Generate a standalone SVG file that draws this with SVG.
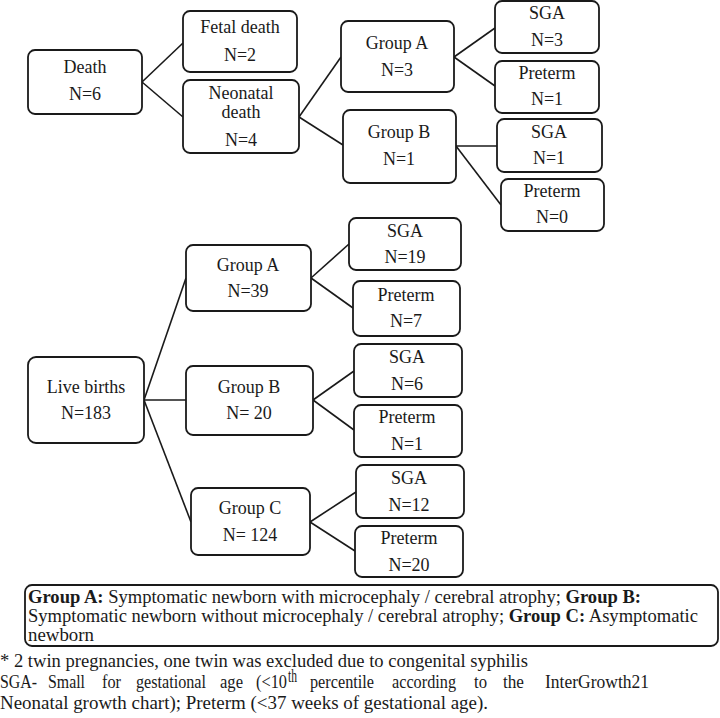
<svg xmlns="http://www.w3.org/2000/svg" width="720" height="718" viewBox="0 0 720 718" font-family="Liberation Serif, Times New Roman, serif">
<style>
.b{fill:#fff;stroke:#1a1a1a;stroke-width:1.8}
.t{font-size:18px;fill:#1a1a1a;text-anchor:middle}
.c line{stroke:#1a1a1a;stroke-width:1.6}
.f{font-size:18px;fill:#1a1a1a}
.bd{font-weight:bold}
</style>
<rect width="720" height="718" fill="#fff"/>
<g class="c" id="connectors">
<line x1="142" y1="82" x2="183" y2="43"/>
<line x1="142" y1="82" x2="183" y2="117"/>
<line x1="299" y1="117" x2="341" y2="57"/>
<line x1="299" y1="117" x2="343" y2="145"/>
<line x1="454" y1="57" x2="495" y2="28"/>
<line x1="454" y1="57" x2="495" y2="86"/>
<line x1="456" y1="146" x2="497" y2="146"/>
<line x1="456" y1="146" x2="501" y2="205"/>
<line x1="144" y1="400" x2="186" y2="278"/>
<line x1="144" y1="400" x2="186" y2="400"/>
<line x1="144" y1="400" x2="191" y2="522"/>
<line x1="311" y1="278" x2="349" y2="244"/>
<line x1="311" y1="278" x2="353" y2="308"/>
<line x1="313" y1="400" x2="354" y2="371"/>
<line x1="313" y1="400" x2="354" y2="430"/>
<line x1="310" y1="522" x2="356" y2="492"/>
<line x1="310" y1="522" x2="355" y2="551"/>
</g>
<g id="death"><rect class="b" x="28" y="50" width="114" height="64" rx="7"/><text class="t" x="85" y="73">Death</text><text class="t" x="85" y="100">N=6</text></g>
<g id="fetal"><rect class="b" x="183" y="11" width="114" height="61" rx="7"/><text class="t" x="240" y="33">Fetal death</text><text class="t" x="240" y="61">N=2</text></g>
<g id="neonatal"><rect class="b" x="183" y="80" width="116" height="73" rx="7"/><text class="t" x="241" y="99">Neonatal</text><text class="t" x="241" y="118">death</text><text class="t" x="241" y="146">N=4</text></g>
<g id="topA"><rect class="b" x="341" y="21" width="113" height="71" rx="7"/><text class="t" x="397" y="49">Group A</text><text class="t" x="397" y="76">N=3</text></g>
<g id="topB"><rect class="b" x="343" y="110" width="113" height="73" rx="7"/><text class="t" x="399" y="138">Group B</text><text class="t" x="399" y="165">N=1</text></g>
<g id="sgaTA"><rect class="b" x="495" y="1" width="104" height="52" rx="7"/><text class="t" x="547" y="19">SGA</text><text class="t" x="547" y="46">N=3</text></g>
<g id="preTA"><rect class="b" x="495" y="61" width="104" height="52" rx="7"/><text class="t" x="547" y="79">Preterm</text><text class="t" x="547" y="105">N=1</text></g>
<g id="sgaTB"><rect class="b" x="497" y="119" width="105" height="53" rx="7"/><text class="t" x="549" y="138">SGA</text><text class="t" x="549" y="164">N=1</text></g>
<g id="preTB"><rect class="b" x="501" y="179" width="103" height="52" rx="7"/><text class="t" x="552" y="197">Preterm</text><text class="t" x="552" y="223">N=0</text></g>
<g id="live"><rect class="b" x="28" y="357" width="116" height="86" rx="8"/><text class="t" x="86" y="393">Live births</text><text class="t" x="86" y="419">N=183</text></g>
<g id="lA"><rect class="b" x="186" y="245" width="125" height="66" rx="7"/><text class="t" x="248" y="271">Group A</text><text class="t" x="248" y="297">N=39</text></g>
<g id="lB"><rect class="b" x="186" y="366" width="127" height="69" rx="7"/><text class="t" x="249" y="393">Group B</text><text class="t" x="249" y="419">N= 20</text></g>
<g id="lC"><rect class="b" x="191" y="488" width="119" height="67" rx="7"/><text class="t" x="250" y="514">Group C</text><text class="t" x="250" y="541">N= 124</text></g>
<g id="sga19"><rect class="b" x="349" y="218" width="112" height="52" rx="7"/><text class="t" x="405" y="237">SGA</text><text class="t" x="405" y="263">N=19</text></g>
<g id="pre7"><rect class="b" x="353" y="281" width="107" height="55" rx="7"/><text class="t" x="406" y="301">Preterm</text><text class="t" x="406" y="327">N=7</text></g>
<g id="sga6"><rect class="b" x="354" y="344" width="108" height="53" rx="7"/><text class="t" x="407" y="363">SGA</text><text class="t" x="407" y="390">N=6</text></g>
<g id="pre1"><rect class="b" x="354" y="405" width="108" height="52" rx="7"/><text class="t" x="407" y="423">Preterm</text><text class="t" x="407" y="450">N=1</text></g>
<g id="sga12"><rect class="b" x="356" y="465" width="108" height="53" rx="7"/><text class="t" x="409" y="484">SGA</text><text class="t" x="409" y="511">N=12</text></g>
<g id="pre20"><rect class="b" x="355" y="526" width="108" height="51" rx="7"/><text class="t" x="409" y="544">Preterm</text><text class="t" x="409" y="571">N=20</text></g>
<g id="legend">
<rect class="b" x="25" y="585" width="693" height="61" rx="7"/>
<text class="f" x="28" y="603" textLength="613" lengthAdjust="spacingAndGlyphs"><tspan class="bd">Group A:</tspan> Symptomatic newborn with microcephaly / cerebral atrophy; <tspan class="bd">Group B:</tspan></text>
<text class="f" x="28" y="622" textLength="670" lengthAdjust="spacingAndGlyphs">Symptomatic newborn without microcephaly / cerebral atrophy; <tspan class="bd">Group C:</tspan> Asymptomatic</text>
<text class="f" x="28" y="641" textLength="66" lengthAdjust="spacingAndGlyphs">newborn</text>
</g>
<g id="footnotes">
<text class="f" x="0" y="667" textLength="528" lengthAdjust="spacingAndGlyphs">* 2 twin pregnancies, one twin was excluded due to congenital syphilis</text>
<text class="f" x="0" y="688" textLength="37" lengthAdjust="spacingAndGlyphs">SGA-</text>
<text class="f" x="48" y="688" textLength="37" lengthAdjust="spacingAndGlyphs">Small</text>
<text class="f" x="102" y="688" textLength="19" lengthAdjust="spacingAndGlyphs">for</text>
<text class="f" x="136" y="688" textLength="70" lengthAdjust="spacingAndGlyphs">gestational</text>
<text class="f" x="220" y="688" textLength="23" lengthAdjust="spacingAndGlyphs">age</text>
<text class="f" x="256" y="688" textLength="31" lengthAdjust="spacingAndGlyphs">(&lt;10</text>
<text class="f" x="288" y="682" font-size="10" textLength="9" lengthAdjust="spacingAndGlyphs">th</text>
<text class="f" x="310" y="688" textLength="64" lengthAdjust="spacingAndGlyphs">percentile</text>
<text class="f" x="392" y="688" textLength="64" lengthAdjust="spacingAndGlyphs">according</text>
<text class="f" x="474" y="688" textLength="13" lengthAdjust="spacingAndGlyphs">to</text>
<text class="f" x="503" y="688" textLength="21" lengthAdjust="spacingAndGlyphs">the</text>
<text class="f" x="545" y="688" textLength="104" lengthAdjust="spacingAndGlyphs">InterGrowth21</text>
<text class="f" x="0" y="709" textLength="488" lengthAdjust="spacingAndGlyphs">Neonatal growth chart); Preterm (&lt;37 weeks of gestational age).</text>
</g>
</svg>
